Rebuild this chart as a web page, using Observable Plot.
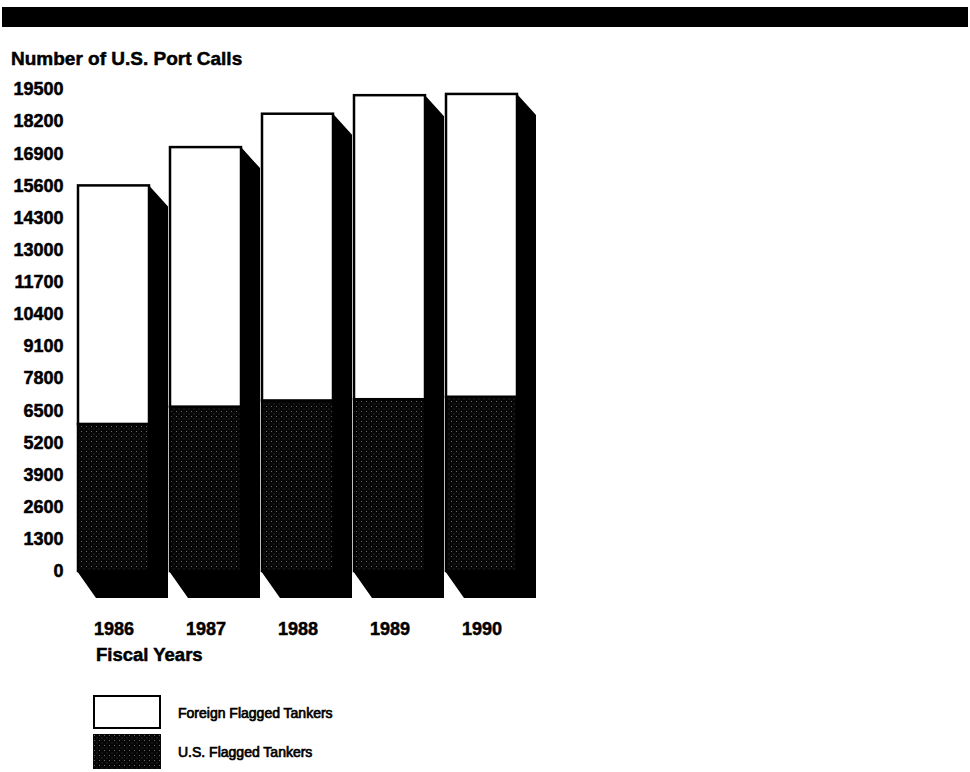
<!DOCTYPE html>
<html>
<head>
<meta charset="utf-8">
<script src="https://cdn.jsdelivr.net/npm/d3@7"></script>
<script src="https://cdn.jsdelivr.net/npm/@observablehq/plot@0.6"></script>
<style>
  body { margin: 0; background: #fff; }
  #page { position: relative; width: 970px; height: 772px; overflow: hidden; background: #fff;
          font-family: "Liberation Sans", Arial, Helvetica, sans-serif; color: #000; }
  #chart svg { position: absolute; left: 0; top: 0; }
  #chart svg text { stroke: #000; stroke-width: 0.5px; paint-order: stroke; }
  .topbar { position: absolute; left: 2px; top: 7px; width: 966px; height: 20px; background: #000; }
  .title { position: absolute; left: 11px; top: 49px; font-size: 19px; line-height: 19px; font-weight: bold; white-space: nowrap; -webkit-text-stroke: 0.5px #000; }
  .xlabel { position: absolute; left: 96px; top: 646px; font-size: 18.5px; line-height: 18.5px; font-weight: bold; white-space: nowrap; -webkit-text-stroke: 0.5px #000; }
  .swatch { position: absolute; left: 93px; width: 68px; }
  .sw-foreign { top: 695px; height: 34px; box-sizing: border-box; border: 2.5px solid #000; background: #fff; }
  .sw-us { top: 734px; height: 35px; }
  .lt { position: absolute; left: 178px; font-size: 14px; line-height: 14px; white-space: nowrap; -webkit-text-stroke: 0.7px #000; }
</style>
</head>
<body>
<div id="page">
  <div id="chart"></div>
  <div class="topbar"></div>
  <div class="title">Number of U.S. Port Calls</div>
  <div class="xlabel">Fiscal Years</div>
  <div class="swatch sw-foreign"></div>
  <svg class="swatch sw-us" width="68" height="35"><rect width="68" height="35" fill="url(#stip)"></rect></svg>
  <div class="lt" style="top:706px">Foreign Flagged Tankers</div>
  <div class="lt" style="top:745px">U.S. Flagged Tankers</div>
</div>
<script>
// ---- data ----
const years = ["1986", "1987", "1988", "1989", "1990"];
const usFlagged = [5950, 6650, 6900, 6950, 7050];
const foreignFlagged = [9650, 10500, 11600, 12300, 12250];
const yTicks = [0, 1300, 2600, 3900, 5200, 6500, 7800, 9100, 10400, 11700, 13000, 14300, 15600, 16900, 18200, 19500];

const rows = years.map((year, i) => ({
  year,
  zero: 0,
  us: usFlagged[i],
  total: usFlagged[i] + foreignFlagged[i]
}));

// 3-D extrusion depth (pixels)
const DX = 19, DYT = 21, DYB = 27;

function extrusion(index, scales) {
  const x = scales.x, y = scales.y;
  const bw = x.bandwidth();
  const g = d3.create("svg:g");
  rows.forEach(r => {
    const xl = x(r.year), xr = xl + bw, yt = y(r.total), y0 = y(0);
    g.append("path")
      .attr("fill", "#000")
      .attr("d", `M${xr},${yt}L${xr + DX},${yt + DYT}L${xr + DX},${y0 + DYB}L${xl + DX - 1},${y0 + DYB}L${xl - 1},${y0}L${xr},${y0}Z`);
  });
  return g.node();
}

const svg = Plot.plot({
  width: 970,
  height: 772,
  marginLeft: 66,
  marginBottom: 155,
  marginTop: 0,
  marginRight: 0,
  style: { fontFamily: "Liberation Sans, Arial, sans-serif", fontSize: "18px", fontWeight: "bold", color: "#000", background: "transparent" },
  x: { type: "band", domain: years, range: [77, 517], paddingInner: 0.23, paddingOuter: 0, label: null, tickSize: 0, tickPadding: 5 },
  y: { domain: [0, 19500], range: [571, 89], ticks: yTicks, tickFormat: d => String(d), tickSize: 0, tickPadding: 3, label: null },
  marks: [
    extrusion,
    Plot.barY(rows, { x: "year", y1: "zero", y2: "us", fill: "url(#stip)", stroke: "#000", strokeWidth: 2.5 }),
    Plot.barY(rows, { x: "year", y1: "us", y2: "total", fill: "#fff", stroke: "#000", strokeWidth: 2.5 })
  ]
});

d3.select(svg).insert("defs", ":first-child").html(
  `<pattern id="stip" patternUnits="userSpaceOnUse" width="5" height="5">
     <rect width="5" height="5" fill="#060606"></rect>
     <rect x="1" y="1" width="1" height="1" fill="#6a6a6a"></rect>
     <rect x="3.5" y="3.5" width="1" height="1" fill="#3a3a3a"></rect>
   </pattern>`
);

document.getElementById("chart").appendChild(svg);
</script>
</body>
</html>
